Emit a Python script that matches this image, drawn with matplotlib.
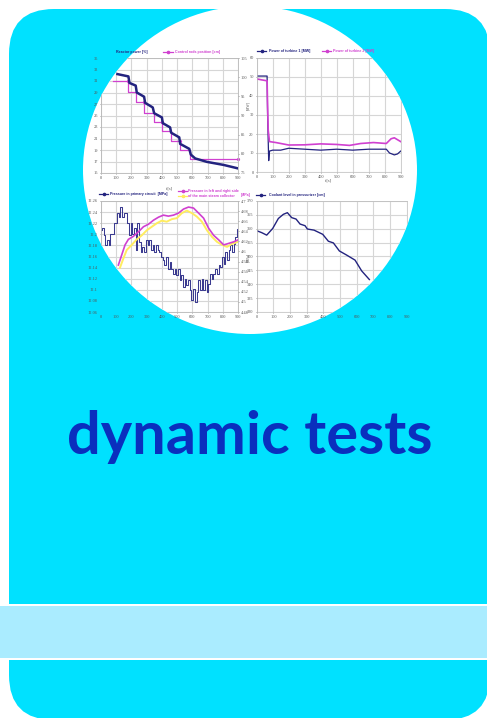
import matplotlib
matplotlib.use('Agg')
import matplotlib.pyplot as plt
from matplotlib.patches import FancyBboxPatch, Rectangle, Ellipse
import numpy as np

W, H = 487, 718
CYAN = '#00e1ff'
BAND = '#aaecff'
NAVY = '#23237f'
PINK = '#d040d0'
YELLOW = '#ffec60'
GRID = '#d6d6d6'
TICK = '#555555'

# reactor power / control rods
power_t = [108,180,187,228,235,283,290,340,349,400,406,454,461,514,520,580,590,619,696,806,900]
power_v = [100.8,100.2,98.5,97.8,96,94.9,93.3,92.1,90.6,89.5,88,86.9,85.5,84.3,82.6,81.3,79.8,78.8,77.9,77.1,76.2]
rods_t = [80,180,180,230,230,283,283,345,345,401,401,459,459,516,516,582,582,900]
rods_v = [31,31,29.1,29.1,27.3,27.3,25.5,25.5,23.9,23.9,22.3,22.3,20.5,20.5,19,19,17.4,17.4]

# turbines
turb_t = [0,30,65,68,75,80,100,150,200,300,400,500,600,700,810,830,860,880,900]
turb1_v = [50.5,50.5,50.5,30,6,11,11.5,11.5,12.5,12,11.5,12,11.5,12,12,10,9,9.5,11]
turb2_t = [0,30,65,68,72,80,120,200,300,400,500,580,650,730,810,840,860,880,900]
turb2_v = [49,48.5,48,35,22,16,15.5,14.2,14.3,14.8,14.5,14,15,15.5,15,17.5,18,17,16]

# primary circuit pressure
prim_v = [12.208,12.211,12.198,12.18,12.189,12.18,12.2,12.2,12.22,12.22,12.239,12.232,12.25,12.232,
          12.239,12.239,12.22,12.198,12.22,12.201,12.211,12.171,12.22,12.186,12.168,12.177,12.168,12.189,
          12.18,12.189,12.171,12.18,12.168,12.18,12.171,12.168,12.159,12.153,12.144,12.159,12.138,12.15,
          12.138,12.129,12.138,12.126,12.138,12.117,12.126,12.105,12.12,12.108,12.117,12.099,12.081,12.102,
          12.078,12.096,12.117,12.099,12.12,12.099,12.117,12.096,12.111,12.129,12.12,12.129,12.138,12.129,
          12.144,12.141,12.159,12.147,12.168,12.153,12.171,12.18,12.168,12.183,12.195,12.209]
prim_t = np.linspace(0, 900, len(prim_v))
# steam collector pressure
left_t = [114,136,158,180,213,246,279,312,345,378,410,443,476,509,542,575,608,641,674,707,740,773,806,839,871,900]
left_v = [4.573,4.593,4.613,4.624,4.63,4.639,4.649,4.654,4.662,4.668,4.672,4.67,4.672,4.676,4.684,4.688,4.686,4.676,4.666,4.646,4.632,4.623,4.613,4.616,4.619,4.623]
right_t = [125,147,169,202,235,268,301,334,367,399,432,465,498,531,564,597,630,663,696,729,762,795,828,860,900]
right_v = [4.568,4.586,4.603,4.613,4.624,4.632,4.642,4.649,4.656,4.661,4.659,4.664,4.666,4.676,4.681,4.676,4.669,4.659,4.642,4.629,4.619,4.613,4.609,4.615,4.619]

# coolant level
level_t = [0,30,60,96,130,160,184,210,236,260,290,304,344,396,430,460,496,540,590,630,676]
level_v = [359.3,358.6,357.7,360.1,363.7,365.2,365.8,364,363.5,361.7,361.1,359.9,359.5,358,355.5,354.9,352,350.5,348.7,344.8,341.7]

fig = plt.figure(figsize=(W/100, H/100), dpi=100, facecolor='white')
bg = fig.add_axes([0, 0, 1, 1])
bg.set_xlim(0, W)
bg.set_ylim(H, 0)
bg.axis('off')

bg.add_patch(FancyBboxPatch((9+45, 9+45), 481-90, 711-90, boxstyle='round,pad=45,rounding_size=45',
                            fc=CYAN, ec='none'))
bg.add_patch(Rectangle((0, 604), W, 56, fc='white', ec='none', zorder=2))
bg.add_patch(Rectangle((0, 606), W, 52, fc=BAND, ec='none', zorder=3))
circle = Ellipse((250, 170), 334, 328, fc='white', ec='none', zorder=4)
bg.add_patch(circle)
bg.add_patch(Rectangle((200, 0), 120, 9, fc='white', ec='none', zorder=5))
bg.text(250, 454, 'dynamic tests', color='#0a2fbe', fontsize=42.8, family='Lato', weight='bold',
        ha='center', va='baseline', zorder=6)


def panel(x0, y0, x1, y1):
    ax = fig.add_axes([x0/W, 1-y1/H, (x1-x0)/W, (y1-y0)/H])
    ax.patch.set_alpha(0)
    return ax


def style(ax, xt, yt, ylab=None):
    ax.set_xlim(0, 900)
    ax.set_xticks(xt)
    ax.set_yticks(yt)
    if ylab:
        ax.set_yticklabels(ylab)
    ax.tick_params(labelsize=3.2, length=1, width=0.4, pad=1.2, colors=TICK, labelfontfamily='Liberation Serif')
    ax.grid(True, color=GRID, lw=0.8)
    ax.set_axisbelow(True)
    for s in ax.spines.values():
        s.set_linewidth(0.5)
        s.set_color('#bbbbbb')


def clip(ax):
    for a in ax.findobj():
        if a is not ax:
            a.set_clip_path(circle)


def label(x, y, s, c, ha='left'):
    t = bg.text(x, y, s, color=c, fontsize=2.65, weight='bold',
                family=['Liberation Sans Narrow', 'Liberation Sans'], ha=ha, va='center', zorder=8)
    t.set_clip_path(circle)


def key(x0, x1, y, c):
    l, = bg.plot([x0, x1], [y, y], color=c, lw=0.9, zorder=8)
    m, = bg.plot([(x0+x1)/2], [y], 'o', color=c, ms=1.6, zorder=8)
    l.set_clip_path(circle)
    m.set_clip_path(circle)


xs = list(range(0, 901, 100))

# top left
a1 = panel(101, 58, 238, 173)
style(a1, xs, list(range(15, 36, 2)))
a1.set_ylim(15, 35)
a1.set_zorder(5)
a1.plot(rods_t, rods_v, color=PINK, lw=0.9)
a1.plot(rods_t[1::4], rods_v[1::4], 'o', color=PINK, ms=1.3)
b1 = a1.twinx()
style(b1, xs, list(range(75, 106, 5)))
b1.grid(False)
b1.set_ylim(75, 105)
b1.set_zorder(6)
b1.plot(power_t, power_v, color=NAVY, lw=1.8)
clip(a1)
clip(b1)

# top right
a2 = panel(256.7, 58, 400.7, 172)
style(a2, xs, list(range(0, 61, 10)))
a2.set_ylim(0, 60)
a2.set_zorder(5)
a2.plot(turb_t, turb1_v, color=NAVY, lw=0.9)
a2.plot(turb2_t, turb2_v, color=PINK, lw=1.2)
clip(a2)

# bottom left
a3 = panel(101, 201, 238, 312)
style(a3, xs, [12.06+i*0.02 for i in range(11)], ['12.06','12.08','12.1','12.12','12.14','12.16','12.18','12.2','12.22','12.24','12.26'])
a3.set_ylim(12.06, 12.26)
a3.set_zorder(5)
a3.plot(prim_t, prim_v, color='#3a3a90', lw=0.75, drawstyle='steps-mid')
b3 = a3.twinx()
style(b3, xs, [4.48+i*0.02 for i in range(12)], ['4.48','4.5','4.52','4.54','4.56','4.58','4.6','4.62','4.64','4.66','4.68','4.7'])
b3.grid(False)
b3.set_ylim(4.48, 4.7)
b3.set_zorder(6)
b3.plot(right_t, right_v, color=YELLOW, lw=1.4)
b3.plot(left_t, left_v, color=PINK, lw=1.2)
clip(a3)
clip(b3)

# bottom right
a4 = panel(256.7, 201, 406.7, 312)
style(a4, xs, list(range(330, 371, 5)))
a4.set_ylim(330, 370)
a4.set_zorder(5)
a4.plot(level_t, level_v, color=NAVY, lw=1.0)
clip(a4)

key(105, 115, 52, NAVY)
label(148, 52, 'Reactor power [%]', NAVY, ha='right')
key(163, 173, 52, PINK)
label(175, 52, 'Control rods position [cm]', PINK)
key(257, 266, 51, NAVY)
label(269, 51, 'Power of turbine 1 [MW]', NAVY)
key(322, 331, 51, PINK)
label(333, 51, 'Power of turbine 2 [MW]', PINK)
key(99, 108, 194, NAVY)
label(110, 194, 'Pressure in primary circuit  [MPa]', NAVY)
key(178, 187, 191, PINK)
label(188, 191, 'Pressure in left and right side', PINK)
key(178, 187, 196, YELLOW)
label(188, 196, 'of the main steam collector', PINK)
label(241, 195, '[MPa]', PINK)
key(256, 265, 195, NAVY)
label(269, 195, 'Coolant level in pressurizer [cm]', NAVY)

for x, y, s in [(169, 188, 't [s]'), (328, 181, 't [s]')]:
    bg.text(x, y, s, fontsize=3.2, color=TICK, family='Liberation Serif', ha='center', va='center', zorder=8)
for y, s in [(106, '[MW]'), (257, '[MPa]')]:
    bg.text(248.5, y, s, fontsize=2.6, color=TICK, family='Liberation Serif', rotation=90, ha='center', va='center', zorder=8)

fig.savefig('out.png', dpi=100)
